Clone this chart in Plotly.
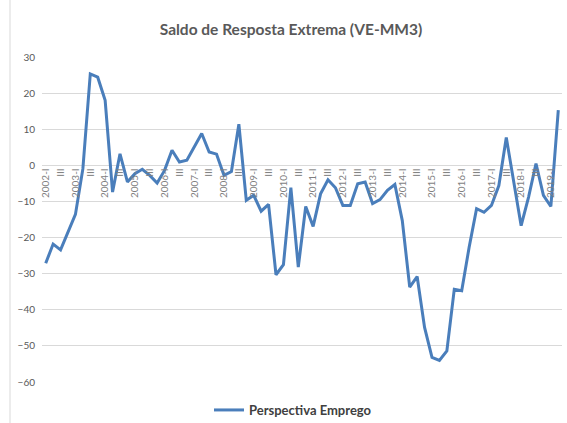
import plotly.graph_objects as go

years = list(range(2002, 2020))
roman = ["I", "II", "III", "IV"]
quarters = [f"{y}-{r}" for y in years for r in roman][:70]

perspectiva_emprego = [
    -27.1, -21.8, -23.4, -18.7, -13.6, -1.0, 25.3, 24.4, 18.0, -7.4,
    3.2, -4.6, -2.3, -1.1, -2.8, -4.9, -1.4, 4.2, 0.9, 1.4,
    5.0, 8.8, 3.7, 3.1, -2.8, -1.7, 11.4, -9.7, -8.3, -12.7,
    -10.8, -30.3, -27.5, -6.2, -28.2, -11.4, -16.9, -7.9, -4.0, -6.2,
    -11.1, -11.1, -5.1, -4.6, -10.6, -9.5, -6.9, -5.3, -15.3, -33.7,
    -30.8, -44.9, -53.2, -54.0, -51.4, -34.3, -34.7, -22.7, -12.0, -13.0,
    -11.1, -5.6, 7.7, -4.5, -16.7, -8.8, 0.5, -8.3, -11.4, 15.3,
]

tick_vals = quarters[::2]
tick_text = [q if q.endswith("-I") else q.split("-")[1] for q in tick_vals]
y_ticks = [30, 20, 10, 0, -10, -20, -30, -40, -50, -60]

fig = go.Figure()
fig.add_trace(go.Scatter(
    x=quarters, y=perspectiva_emprego, mode="lines",
    name="Perspectiva Emprego",
    line=dict(color="#4A7EBB", width=3),
))

fig.update_layout(
    width=567, height=423,
    margin=dict(l=42, r=5, t=57, b=41, autoexpand=False),
    paper_bgcolor="white", plot_bgcolor="white",
    title=dict(text="<b>Saldo de Resposta Extrema (VE-MM3)</b>",
               x=(291 - 42) / 520, xref="paper", xanchor="center",
               y=1 - 30 / 423, yanchor="middle",
               font=dict(family="Lato", size=15.5, color="#595959")),
    font=dict(family="Lato", color="#595959"),
    showlegend=True,
    legend=dict(orientation="h", x=(293 - 42) / 520, xanchor="center",
                yref="container", y=(423 - 410) / 423, yanchor="middle",
                font=dict(family="Lato", size=13, color="#404040", weight="bold"),
                itemwidth=30),
    xaxis=dict(type="category", range=[-0.5, 69.5], automargin=False,
               tickmode="array", tickvals=tick_vals, ticktext=tick_text,
               tickangle=-90, tickfont=dict(size=10, color="#7F7F7F"),
               showgrid=False, zeroline=False, showline=False,
               anchor="free", position=60/90, ticks=""),
    yaxis=dict(range=[-60, 30], tickvals=y_ticks, showgrid=True,
               automargin=False,
               gridcolor="#D9D9D9", gridwidth=1, zeroline=False,
               showline=False, tickfont=dict(size=10, color="#595959"),
               ticklabelstandoff=6),
    shapes=[dict(type="line", xref="paper", yref="paper",
                 x0=(10-42)/520, x1=(10-42)/520, y0=-0.2, y1=1.3,
                 line=dict(color="#D9D9D9", width=1))],
)

fig.write_html("out.html", config={"displayModeBar": False},
               post_script="document.body.style.margin='0';document.body.style.overflow='hidden';")
